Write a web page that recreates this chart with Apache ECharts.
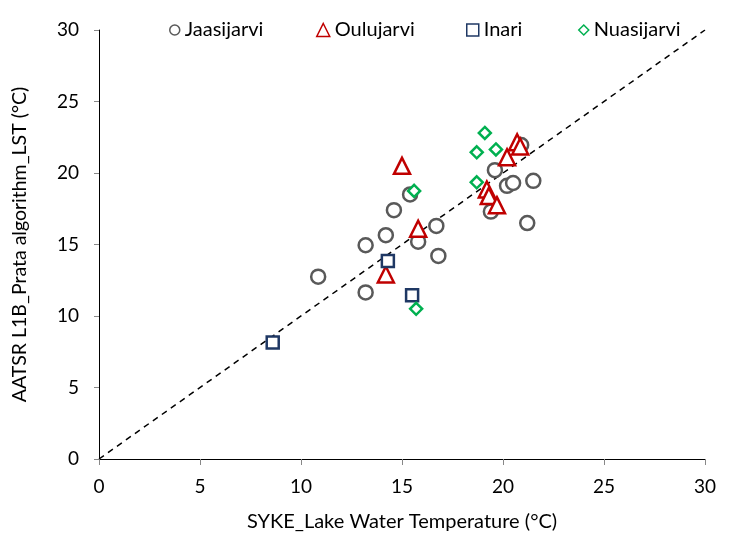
<!DOCTYPE html>
<html>
<head>
<meta charset="utf-8">
<script src="https://cdn.jsdelivr.net/npm/echarts@6/dist/echarts.min.js"></script>
<style>
  html, body { margin: 0; padding: 0; background: #fff; }
  #chart { width: 740px; height: 537px; }
</style>
</head>
<body>
<div id="chart"></div>
<script>
// 各湖泊数据 [SYKE, AATSR]
var jaasijarvi = [
  [10.85, 12.75], [13.2, 11.65], [13.2, 14.95], [14.2, 15.65], [14.6, 17.4],
  [15.4, 18.5], [15.8, 15.2], [16.7, 16.3], [16.8, 14.2], [19.6, 20.2],
  [19.4, 17.3], [20.2, 19.1], [20.5, 19.3], [21.5, 19.45], [21.2, 16.5],
  [20.9, 21.95]
];
var oulujarvi = [
  [15.0, 20.5], [15.8, 16.1], [14.2, 12.9], [19.2, 18.85], [19.3, 18.4],
  [19.7, 17.75], [20.2, 21.1], [20.7, 22.15], [20.85, 21.85]
];
var inari = [[14.3, 13.85], [15.5, 11.45], [8.6, 8.15]];
var nuasijarvi = [
  [19.1, 22.8], [18.7, 21.45], [19.65, 21.65], [18.7, 19.35], [15.6, 18.75],
  [15.7, 10.5]
];
var oneToOne = [[0, 0], [30, 30]];
var axisTicks = { min: 0, max: 30, interval: 5 };

var myChart = echarts.init(document.getElementById("chart"));
var font = "Lato, 'Open Sans', sans-serif";

function pointSeries(name, data, symbol, size, color) {
  return {
    name: name,
    type: "scatter",
    data: data,
    symbol: symbol,
    symbolSize: size,
    itemStyle: { color: "#fff", borderColor: color, borderWidth: 2.5, opacity: 1 },
    z: 3
  };
}

// 图例分开放, 位置对齐原图
function legendItem(name, left, size, color) {
  return {
    top: 15,
    left: left,
    itemGap: 0,
    itemWidth: size,
    itemHeight: size,
    textStyle: { fontSize: 20, color: "#000", fontFamily: font },
    data: [{ name: name, itemStyle: { color: "#fff", borderColor: color, borderWidth: 1.5 } }]
  };
}

myChart.setOption({
  animation: false,
  textStyle: { fontFamily: font },
  grid: { left: 99, right: 35, top: 30, bottom: 78, outerBoundsMode: "none" },
  legend: [
    legendItem("Jaasijarvi", 164, 10, "#595959"),
    legendItem("Oulujarvi", 311, 13, "#C00000"),
    legendItem("Inari", 461, 12, "#1F3864"),
    legendItem("Nuasijarvi", 573, 10, "#00B050")
  ],
  xAxis: {
    type: "value",
    min: axisTicks.min,
    max: axisTicks.max,
    interval: axisTicks.interval,
    name: "SYKE_Lake Water Temperature (°C)",
    nameLocation: "middle",
    nameGap: 53,
    nameTextStyle: { fontSize: 20, color: "#000" },
    axisLine: { show: true, lineStyle: { color: "#000", width: 1 } },
    axisTick: { show: true, length: 6, lineStyle: { color: "#888" } },
    axisLabel: { fontSize: 19, color: "#000", margin: 18 },
    splitLine: { show: false }
  },
  yAxis: {
    type: "value",
    min: axisTicks.min,
    max: axisTicks.max,
    interval: axisTicks.interval,
    name: "AATSR L1B_Prata algorithm_LST (°C)",
    nameLocation: "middle",
    nameGap: 69,
    nameTextStyle: { fontSize: 19.5, color: "#000" },
    axisLine: { show: true, lineStyle: { color: "#000", width: 1 } },
    axisTick: { show: true, length: 5, lineStyle: { color: "#888" } },
    axisLabel: { fontSize: 19, color: "#000", margin: 20 },
    splitLine: { show: false }
  },
  series: [
    {
      name: "1:1",
      type: "line",
      data: oneToOne,
      symbol: "none",
      lineStyle: { color: "#000", width: 1.5, type: [6, 5] },
      silent: true,
      z: 2
    },
    pointSeries("Jaasijarvi", jaasijarvi, "circle", 14, "#595959"),
    pointSeries("Oulujarvi", oulujarvi, "triangle", 16, "#C00000"),
    pointSeries("Inari", inari, "rect", 12, "#1F3864"),
    pointSeries("Nuasijarvi", nuasijarvi, "diamond", 12, "#00B050")
  ]
});
</script>
</body>
</html>
